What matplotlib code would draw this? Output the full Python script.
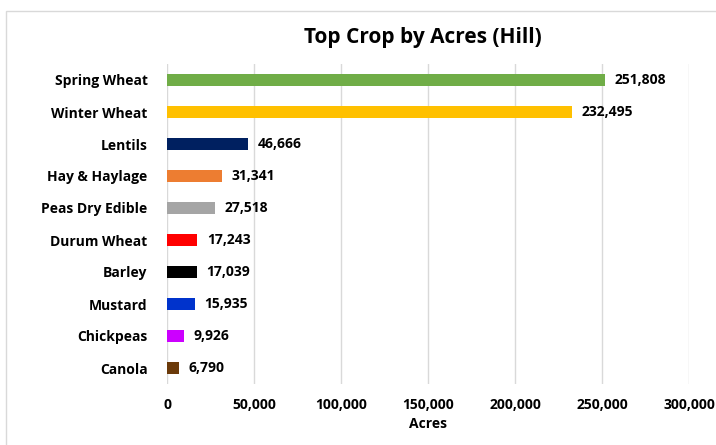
import matplotlib
matplotlib.use("Agg")
import matplotlib.pyplot as plt
from matplotlib.patches import Rectangle
from matplotlib.ticker import FuncFormatter

crops = ["Spring Wheat", "Winter Wheat", "Lentils", "Hay & Haylage", "Peas Dry Edible",
         "Durum Wheat", "Barley", "Mustard", "Chickpeas", "Canola"]
acres = [251808, 232495, 46666, 31341, 27518, 17243, 17039, 15935, 9926, 6790]
colors = ["#70ad47", "#ffc000", "#002060", "#ed7d31", "#a5a5a5",
          "#ff0000", "#000000", "#0033cc", "#cc00ff", "#6b3a0a"]
xticks = [0, 50000, 100000, 150000, 200000, 250000, 300000]

plt.rcParams['font.family'] = ['Open Sans', 'DejaVu Sans']

fig = plt.figure(figsize=(7.16, 4.45), dpi=100)
fig.patches.append(Rectangle((6/716, -0.1), 1.2, (1 - 11/445) + 0.1, transform=fig.transFigure,
                             fill=False, edgecolor="#d9d9d9", linewidth=1.0))
ax = fig.add_axes([167/716, 1 - 384/445, 522/716, 320/445])

y = list(range(len(crops)))
ax.barh(y, acres, height=0.36, color=colors)
ax.set_ylim(len(crops) - 0.5, -0.5)
ax.set_xlim(0, 300000)
ax.set_xticks(xticks)
ax.xaxis.set_major_formatter(FuncFormatter(lambda v, p: f"{int(v):,}"))
ax.set_yticks(y)
ax.set_yticklabels(crops, fontsize=10, fontweight="bold")
for lbl in ax.get_xticklabels():
    lbl.set_fontsize(10)
    lbl.set_fontweight("bold")
ax.tick_params(axis="both", length=0)
ax.tick_params(axis="y", pad=14)
ax.tick_params(axis="x", pad=10)
for s in ax.spines.values():
    s.set_visible(False)
ax.grid(axis="x", color="#d9d9d9", linewidth=1)
ax.set_axisbelow(True)

for yi, v in zip(y, acres):
    ax.annotate(f"{v:,}", (v, yi), xytext=(7, 0), textcoords="offset points",
                va="center", ha="left", fontsize=10, fontweight="bold")

ax.set_xlabel("Acres", fontsize=10, fontweight="bold", labelpad=4)
fig.text(423/716, 1 - 38/445, "Top Crop by Acres (Hill)", ha="center", va="center",
         fontsize=15, fontweight="bold")

fig.savefig("out.png", dpi=100, facecolor="white")
